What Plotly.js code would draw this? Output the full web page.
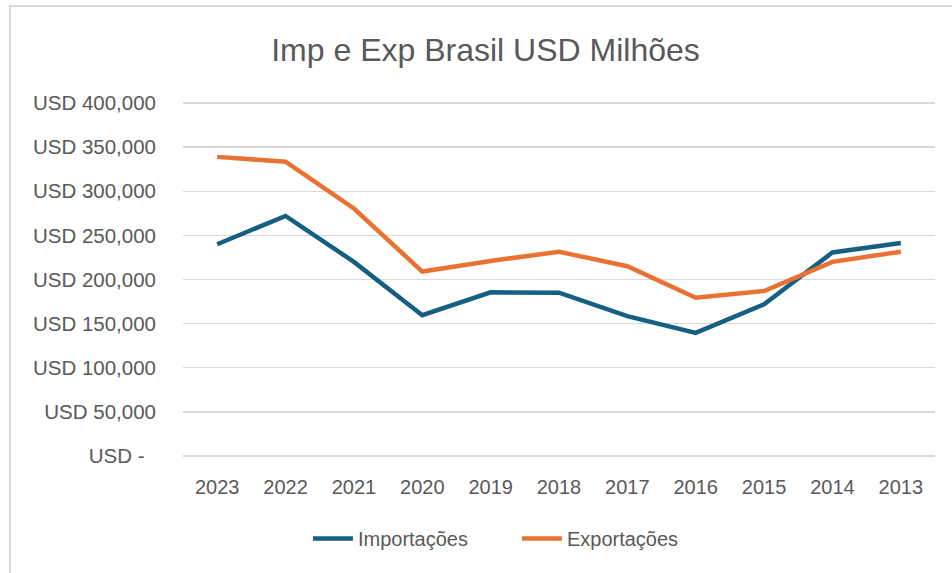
<!DOCTYPE html>
<html>
<head>
<meta charset="utf-8">
<script src="https://cdn.plot.ly/plotly-3.0.1.min.js"></script>
<style>
html,body{margin:0;padding:0;background:#fff;overflow:hidden;}
#frame{position:absolute;left:9px;top:5px;width:1000px;height:600px;border:2px solid #d9d9d9;box-sizing:border-box;}
#chart{position:absolute;left:0;top:0;width:952px;height:573px;}
</style>
</head>
<body>
<div id="frame"></div>
<div id="chart"></div>
<script>
const years = ["2023","2022","2021","2020","2019","2018","2017","2016","2015","2014","2013"];
const importacoes = [240000, 272000, 220000, 159500, 185500, 185000, 158500, 139500, 172000, 230700, 241300];
const exportacoes = [339000, 333500, 280500, 209000, 221000, 231500, 215000, 179300, 187000, 220000, 231500];
const yTickVals = [0, 50000, 100000, 150000, 200000, 250000, 300000, 350000, 400000];
const yTickText = ["USD -\u00a0\u00a0", "USD 50,000", "USD 100,000", "USD 150,000", "USD 200,000", "USD 250,000", "USD 300,000", "USD 350,000", "USD 400,000"];

const font = "Liberation Sans, Arial, sans-serif";
const traces = [
  {x: years, y: importacoes, name: "Importações", type: "scatter", mode: "lines",
   line: {color: "#156082", width: 4.5}},
  {x: years, y: exportacoes, name: "Exportações", type: "scatter", mode: "lines",
   line: {color: "#E97132", width: 4.5}}
];
const layout = {
  width: 952, height: 573,
  paper_bgcolor: "rgba(0,0,0,0)", plot_bgcolor: "rgba(0,0,0,0)",
  margin: {l: 183, r: 17, t: 102, b: 116},
  font: {family: font, color: "#595959", size: 20},
  title: {text: "Imp e Exp Brasil USD Milhões", font: {family: font, size: 32, color: "#595959"},
          x: 0.51, xref: "container", xanchor: "center", y: 0.913, yref: "container", yanchor: "middle"},
  xaxis: {type: "category", range: [-0.5, 10.5], showgrid: false, zeroline: false, showline: false,
          ticks: "", ticklabelstandoff: 16, tickfont: {size: 20, color: "#595959"}, fixedrange: true},
  yaxis: {range: [-1200, 401200], tickvals: yTickVals, ticktext: yTickText, showgrid: true,
          gridcolor: "#d9d9d9", gridwidth: 1.5, zeroline: false, showline: false, ticks: "",
          ticklabelstandoff: 26, tickfont: {size: 20.5, color: "#595959"}, fixedrange: true},
  showlegend: true,
  legend: {orientation: "h", xref: "container", yref: "container", x: 0.543, y: 0.06,
           xanchor: "center", yanchor: "middle", font: {size: 20, color: "#595959"},
           itemwidth: 40, entrywidth: 154, tracegroupgap: 0}
};
Plotly.newPlot("chart", traces, layout, {displayModeBar: false, staticPlot: true});
</script>
</body>
</html>
